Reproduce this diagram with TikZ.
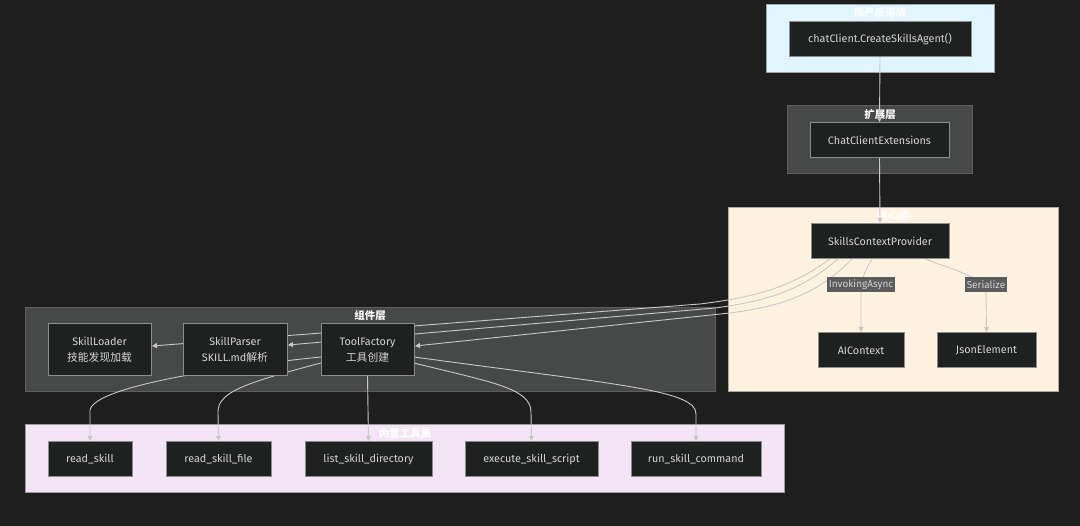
\documentclass[tikz,border=0pt]{standalone}
\usepackage{fontspec}
\setmainfont{Fira Sans}
\newfontfamily\cjk{Noto Sans CJK SC}
\usetikzlibrary{arrows.meta,calc,positioning}
\definecolor{bgc}{HTML}{1E1E1E}
\definecolor{nodefill}{HTML}{1F2020}
\definecolor{nodeborder}{HTML}{8C8C8C}
\definecolor{txt}{HTML}{D4D4D4}
\definecolor{edgec}{HTML}{C8C8C8}
\definecolor{userfill}{HTML}{E1F5FE}
\definecolor{userborder}{HTML}{9AA4A8}
\definecolor{darkfill}{HTML}{474848}
\definecolor{darkborder}{HTML}{5E5E5E}
\definecolor{corefill}{HTML}{FFF2E0}
\definecolor{coreborder}{HTML}{A8A8A8}
\definecolor{toolfill}{HTML}{F3E5F5}
\definecolor{toolborder}{HTML}{9C9C9C}
\definecolor{lblfill}{HTML}{5C5C5C}
\pgfdeclarelayer{bglayer}
\pgfdeclarelayer{edgelayer}
\pgfsetlayers{bglayer,edgelayer,main}
\tikzset{
  box/.style={draw=nodeborder, fill=nodefill, line width=1pt, text=txt,
    font=\fontsize{10.8}{16}\selectfont, align=center, inner sep=0pt, outer sep=0pt},
  cluster/.style={line width=1pt, inner sep=0pt, outer sep=0pt},
  ctitle/.style={text=white, font=\cjk\bfseries\fontsize{10.5}{12}\selectfont, inner sep=0pt},
  conn/.style={draw=edgec, line width=0.9pt, -{Triangle[length=5pt,width=5pt]}},
  elabel/.style={fill=lblfill, text=txt, font=\fontsize{10}{11}\selectfont, inner sep=1.5pt, minimum height=15pt}
}
\begin{document}
\begin{tikzpicture}[x=1pt,y=-1pt]
\useasboundingbox (0,0) rectangle (1080,526);
% clusters
\begin{pgfonlayer}{bglayer}
\fill[bgc] (0,0) rectangle (1080,526);
\node[cluster, draw=userborder, fill=userfill, minimum width=228pt, minimum height=68pt] (user) at (880,39) {};
\node[cluster, draw=darkborder, fill=darkfill, minimum width=185pt, minimum height=68pt] (ext) at (879.5,140) {};
\node[cluster, draw=coreborder, fill=corefill, minimum width=330pt, minimum height=184pt] (core) at (893,300) {};
\node[cluster, draw=darkborder, fill=darkfill, minimum width=690pt, minimum height=84pt] (comp) at (370,350) {};
\node[cluster, draw=toolborder, fill=toolfill, minimum width=759pt, minimum height=68pt] (tools) at (404.5,459) {};
\node[ctitle] (tuser) at (880,13) {用户应用层};
\node[ctitle] (text) at (880,115) {扩展层};
\node[ctitle] (tcore) at (893,216) {核心层};
\node[ctitle] (tcomp) at (370,316) {组件层};
\node[ctitle] (ttools) at (405,433) {内置工具集};
\end{pgfonlayer}
% nodes
\node[box, minimum width=182pt, minimum height=35pt] (cc) at (880,39.5) {chatClient.CreateSkillsAgent()};
\node[box, minimum width=139pt, minimum height=35pt] (cce) at (879.5,140.5) {ChatClientExtensions};
\node[box, minimum width=138pt, minimum height=35pt] (scp) at (880,241.5) {SkillsContextProvider};
\node[box, minimum width=86pt, minimum height=35pt] (aic) at (861,350.5) {AIContext};
\node[box, minimum width=99pt, minimum height=35pt] (json) at (986.5,350.5) {JsonElement};
\node[box, minimum width=103pt, minimum height=52pt] (sl) at (99.5,350) {SkillLoader\\{\cjk 技能发现加载}};
\node[box, minimum width=104pt, minimum height=52pt] (sp) at (235,350) {SkillParser\\SKILL.md{\cjk 解析}};
\node[box, minimum width=93pt, minimum height=52pt] (tf) at (367.5,350) {ToolFactory\\{\cjk 工具创建}};
\node[box, minimum width=84pt, minimum height=35pt] (rs) at (90,459.5) {read\_skill};
\node[box, minimum width=105pt, minimum height=35pt] (rsf) at (218.5,459.5) {read\_skill\_file};
\node[box, minimum width=127pt, minimum height=35pt] (lsd) at (368.5,459.5) {list\_skill\_directory};
\node[box, minimum width=133pt, minimum height=35pt] (ess) at (531.5,459.5) {execute\_skill\_script};
\node[box, minimum width=130pt, minimum height=35pt] (rsc) at (696,459.5) {run\_skill\_command};
% edges
\begin{pgfonlayer}{edgelayer}
\draw[conn] (cc.south) -- ($(cce.north)+(0,-1)$);
\draw[conn] (cce.south) -- ($(scp.north)+(0,-1)$);
% SCP -> SkillLoader / SkillParser / ToolFactory
\draw[conn] ($(scp.south west)+(19,0)$) .. controls (795,284) and (765,296) .. (700,304) -- ($(sl.east)+(1,-4)$);
\draw[conn] ($(scp.south west)+(27,0)$) .. controls (805,287) and (775,300) .. (715,308) -- ($(sp.east)+(1,-5)$);
\draw[conn] ($(scp.south west)+(41,0)$) .. controls (820,292) and (785,306) .. (730,313) -- ($(tf.east)+(1,-4)$);
% SCP -> AIContext / JsonElement
\draw[conn] ($(scp.south west)+(61,0)$) .. controls (864,272) and (861,280) .. (861,295) -- ($(aic.north)+(0,-1)$);
\draw[conn] ($(scp.south west)+(114,0)$) .. controls (960,272) and (986,278) .. (986,295) -- ($(json.north)+(0,-1)$);
% ToolFactory -> tools
\draw[conn] ($(tf.west)+(0,7)$) .. controls (240,365) and (95,385) .. (90,410) -- ($(rs.north)+(0,-1)$);
\draw[conn] ($(tf.west)+(0,13)$) .. controls (245,383) and (218,392) .. (218,412) -- ($(rsf.north)+(0,-1)$);
\draw[conn] (tf.south) -- ($(lsd.north)+(0,-1)$);
\draw[conn] ($(tf.east)+(0,13)$) .. controls (490,382) and (531,388) .. (531,412) -- ($(ess.north)+(0,-1)$);
\draw[conn] ($(tf.east)+(0,7)$) .. controls (620,385) and (696,390) .. (696,414) -- ($(rsc.north)+(0,-1)$);
\end{pgfonlayer}
% edge labels
\node[elabel] (lia) at (861,285) {InvokingAsync};
\node[elabel] (lser) at (986,285) {Serialize};
\end{tikzpicture}
\end{document}
